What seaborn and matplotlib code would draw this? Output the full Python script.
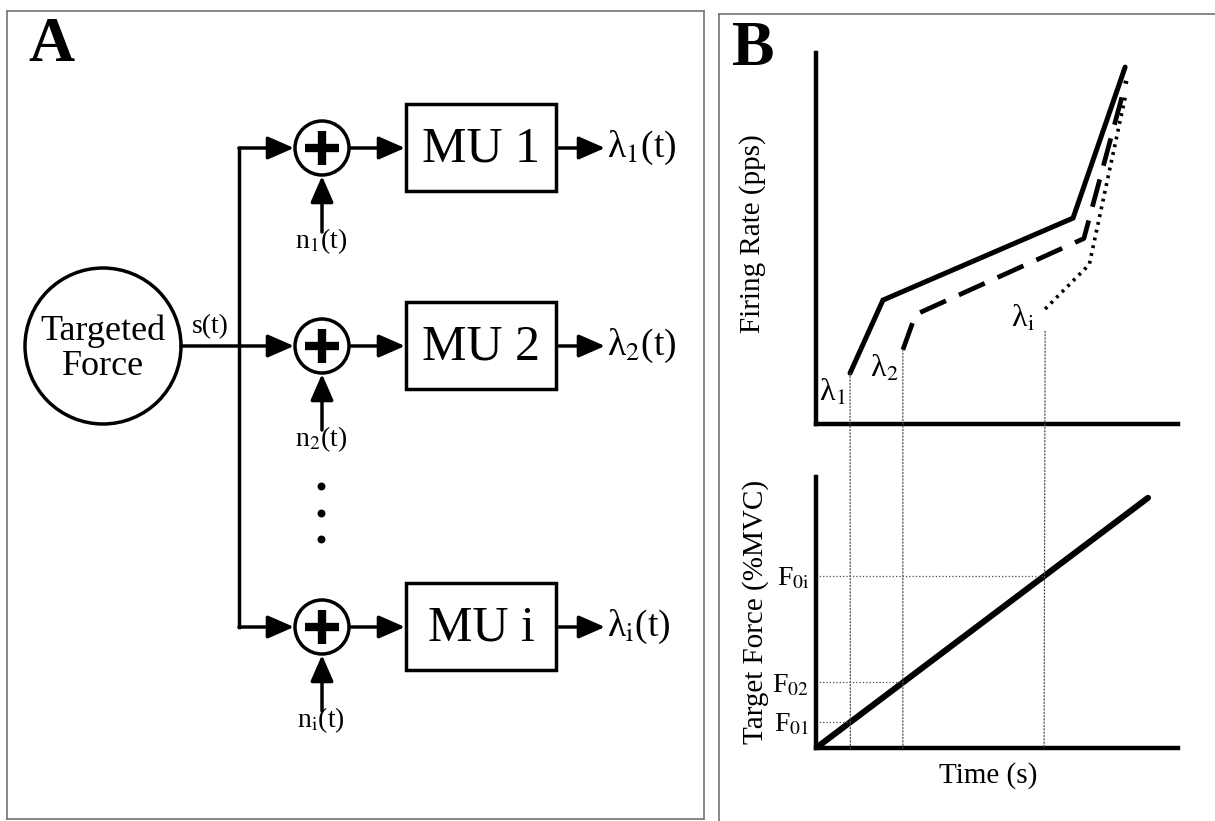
import matplotlib
matplotlib.use("Agg")
import matplotlib.pyplot as plt
import seaborn as sns
import pandas as pd
from matplotlib.patches import Circle, Rectangle, ConnectionPatch

sns.set_theme(style="white")
plt.rcParams["font.family"] = ["Liberation Serif", "DejaVu Serif"]
plt.rcParams["mathtext.fontset"] = "stix"
for k in ["text.color", "axes.labelcolor", "xtick.color", "ytick.color"]:
    plt.rcParams[k] = "black"

# ---------------- data ----------------
unit_labels = ["MU 1", "MU 2", "MU i"]
noise_labels = ["n$_{1}$(t)", "n$_{2}$(t)", "n$_{\\mathrm{i}}$(t)"]
output_labels = ["λ$_{1}$(t)", "λ$_{2}$(t)", "λ$_{\\mathrm{i}}$(t)"]
source_label = "Targeted\nForce"
signal_label = "s(t)"

# panel B: firing-rate curves (time, rate)
lam1_t = [0.94, 1.85, 7.10, 8.54]
lam1_r = [13.7, 33.4, 55.5, 96.2]
lam2_t = [2.40, 2.75, 7.40, 8.57]
lam2_r = [20.0, 29.5, 50.0, 92.5]
lami_t = [6.33, 7.55, 8.55]
lami_r = [31.0, 43.0, 88.5]
curve_names = ["λ$_{1}$", "λ$_{2}$", "λ$_{\\mathrm{i}}$"]

# recruitment thresholds
thr_t = [0.95, 2.40, 6.30]
thr_F = [9.6, 24.2, 63.5]
thr_labels = ["F$_{01}$", "F$_{02}$", "F$_{0\\mathrm{i}}$"]

# target force ramp
ramp_t = [0.0, 9.17]
ramp_F = [0.0, 92.3]

# ---------------- figure ----------------
W, H = 1215, 821
fig = plt.figure(figsize=(W / 100, H / 100), dpi=100)
fig.patch.set_facecolor("white")


def fax(l, t, r, b):
    return fig.add_axes([l / W, 1 - b / H, (r - l) / W, (b - t) / H])


# ---------- panel B frame ----------
axBg = fax(719, 14, 1215, 821)
axBg.set_facecolor("none")
axBg.set_xticks([]); axBg.set_yticks([])
for s in ["right", "bottom"]:
    axBg.spines[s].set_visible(False)
for s in ["top", "left"]:
    axBg.spines[s].set_color("0.45"); axBg.spines[s].set_linewidth(1.2)

# ---------- panel A (block diagram) ----------
axA = fax(7, 11, 704, 819)
axA.set_xlim(7, 704); axA.set_ylim(819, 11)
axA.set_xticks([]); axA.set_yticks([])
axA.set_facecolor("none")
for s in axA.spines.values():
    s.set_color("0.45"); s.set_linewidth(1.2)

LW = 2.5
branch_y = [148, 346, 627]
trunk_x = 239
src_c, src_r = (103, 346), 78
sum_x, sum_r = 322, 27
box_l, box_r, box_h = 406, 556, 87


def arrow(x0, y0, x1, y1):
    axA.annotate("", xy=(x1, y1), xytext=(x0, y0),
                 arrowprops=dict(arrowstyle="-|>,head_length=0.8,head_width=0.35",
                                 mutation_scale=20, lw=LW, color="black",
                                 shrinkA=0, shrinkB=0))


axA.add_patch(Circle(src_c, src_r, fill=False, lw=LW, ec="black"))
axA.text(src_c[0], src_c[1] + 3, source_label, fontsize=26, ha="center", va="center",
         linespacing=1.1)
axA.text(210, 327, signal_label, fontsize=20, ha="center", va="center")

axA.plot([trunk_x, trunk_x], [branch_y[0], branch_y[-1]], color="black", lw=LW,
         solid_capstyle="projecting")
for i, y in enumerate(branch_y):
    x0 = src_c[0] + src_r if i == 1 else trunk_x
    arrow(x0, y, sum_x - sum_r - 1, y)
    axA.add_patch(Circle((sum_x, y), sum_r, fill=False, lw=LW, ec="black"))
    axA.plot([sum_x - 17, sum_x + 17], [y, y], color="black", lw=6, solid_capstyle="butt")
    axA.plot([sum_x, sum_x], [y - 17, y + 17], color="black", lw=6, solid_capstyle="butt")
    arrow(sum_x + sum_r + 2, y, box_l - 1, y)
    axA.add_patch(Rectangle((box_l, y - box_h / 2), box_r - box_l, box_h, fill=False,
                            lw=LW, ec="black"))
    axA.text((box_l + box_r) / 2, y + 1, unit_labels[i], fontsize=36, ha="center",
             va="center")
    arrow(box_r + 3, y, 605, y)
    axA.text(607, y, output_labels[i], fontsize=27, ha="left", va="center")
    arrow(sum_x, y + 84, sum_x, y + sum_r + 1)
    axA.text(sum_x - 1, y + 93, noise_labels[i], fontsize=20, ha="center", va="center")

axA.scatter([321, 321, 321], [486, 513, 539], s=22, color="black", zorder=5)

# ---------- panel B: firing rate ----------
axT = fax(816, 53, 1178, 424)
axF = fax(816, 477, 1178, 748)
for ax in (axT, axF):
    ax.set_facecolor("none")
    ax.set_xlim(0, 10); ax.set_ylim(0, 100)
    for s in ["top", "right"]:
        ax.spines[s].set_visible(False)
    for s in ["left", "bottom"]:
        ax.spines[s].set_color("black"); ax.spines[s].set_linewidth(3.2)
    ax.set_xticks([])

axT.set_yticks([])
sns.lineplot(x=lam1_t, y=lam1_r, ax=axT, color="black", lw=3.6, sort=False,
             estimator=None, solid_joinstyle="miter")
sns.lineplot(x=lam2_t, y=lam2_r, ax=axT, color="black", lw=3.4, sort=False,
             estimator=None, linestyle=(0, (6, 3)))
sns.lineplot(x=lami_t, y=lami_r, ax=axT, color="black", lw=2.6, sort=False,
             estimator=None, linestyle=(0, (0.8, 1.4)))
lab_pos = [(0.44, 8.4), (1.88, 15.0), (5.72, 28.5)]
for name, (tx, ry) in zip(curve_names, lab_pos):
    axT.text(tx, ry, name, fontsize=23, ha="center", va="center")

# ---------- panel B: target force ----------
sns.lineplot(x=ramp_t, y=ramp_F, ax=axF, color="black", lw=4.4, sort=False,
             estimator=None)
axF.set_yticks(thr_F, thr_labels)
axF.tick_params(axis="y", length=0, pad=5, labelsize=20)

axT.set_ylabel("Firing Rate (pps)", fontsize=21, va="center", visible=True)
axT.yaxis.set_label_coords(-0.174, 0.512)
axT.set_xlabel("")
axF.set_ylabel("Target Force (%MVC)", fontsize=21, va="center", visible=True)
axF.yaxis.set_label_coords(-0.168, 0.502)
axF.set_xlabel("Time (s)", fontsize=21, va="center", visible=True)
axF.xaxis.set_label_coords(0.475, -0.10)

for t0, F0 in zip(thr_t, thr_F):
    axF.plot([0, t0], [F0, F0], color="0.3", lw=0.9, ls=":")

starts = [(lam1_t[0], lam1_r[0]), (lam2_t[0], lam2_r[0]), (lami_t[0], lami_r[0] - 6)]
for t0, (ts, rs) in zip(thr_t, starts):
    cp = ConnectionPatch(xyA=(ts, rs), coordsA="data", axesA=axT,
                         xyB=(t0, 0), coordsB="data", axesB=axF,
                         color="0.3", lw=0.9, ls=":")
    fig.add_artist(cp)

# ---------- panel letters ----------
fig.text(51 / W, 1 - 46 / H, "A", fontsize=46, fontweight="bold", ha="center", va="center")
fig.text(753 / W, 1 - 50 / H, "B", fontsize=46, fontweight="bold", ha="center", va="center")

fig.savefig("out.png", dpi=100, facecolor="white")
